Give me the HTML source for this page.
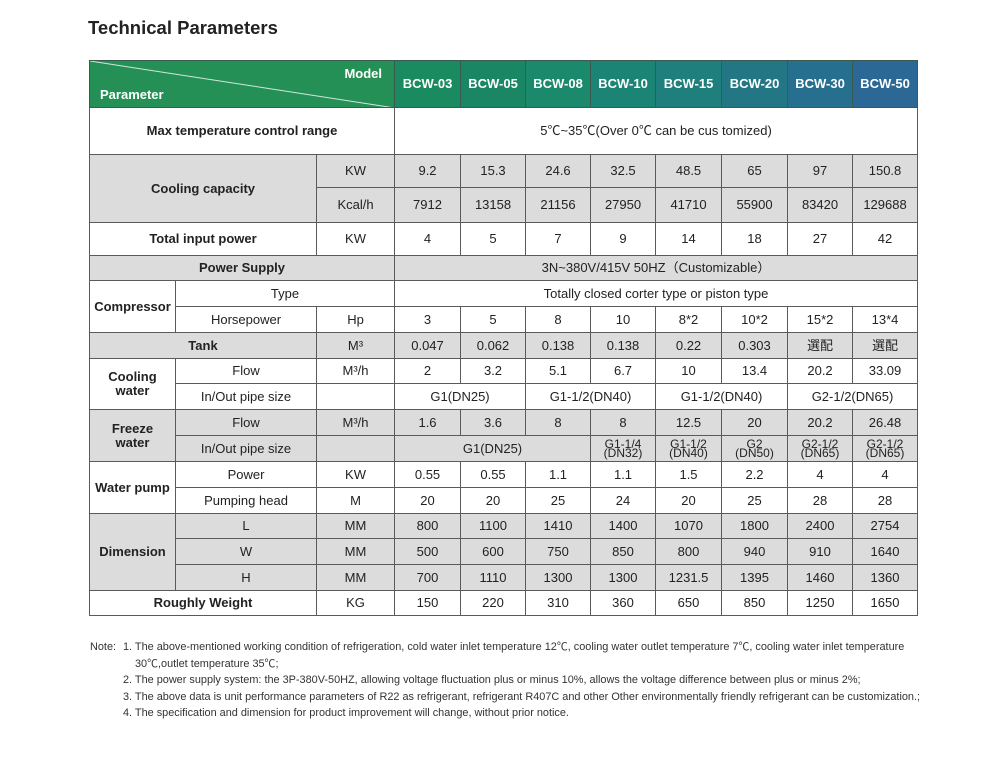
<!DOCTYPE html>
<html><head><meta charset="utf-8">
<style>
body{margin:0;background:#fff;width:1000px;height:763px;overflow:hidden;font-family:"Liberation Sans","Noto Sans CJK SC",sans-serif;color:#222;position:relative}
#title{position:absolute;left:88px;top:17px;font-size:18.5px;font-weight:bold;color:#222}
table{position:absolute;left:89px;top:60px;border-collapse:collapse;table-layout:fixed;width:829px}
td{border:1px solid #5a5a5a;padding:0;text-align:center;vertical-align:middle;font-size:13px;line-height:14px;overflow:hidden}
.g td{background:#dcdcdc}
td.b{font-weight:bold}
.hd td{color:#fff;font-weight:bold;font-size:13px;border-color:#3a5a50}
.two{font-size:12px;line-height:9.5px;padding-top:1px}
#notes{position:absolute;left:90px;top:639px;font-size:10.9px;color:#333;line-height:16.5px}
#notes .lbl{position:absolute;left:0;top:0}
#notes .body{margin-left:33px}
</style></head><body>
<div id="title">Technical Parameters</div>
<table>
<colgroup><col style="width:86px"><col style="width:141px"><col style="width:78px"><col style="width:66px"><col style="width:65px"><col style="width:65px"><col style="width:65px"><col style="width:66px"><col style="width:66px"><col style="width:65px"><col style="width:65px"></colgroup>
<tr class="hd" style="height:47px">
<td colspan="3" style="background:#259055;position:relative">
<svg width="305" height="47" style="position:absolute;left:0;top:0"><line x1="0" y1="0" x2="305" y2="47" stroke="#cfe8dc" stroke-width="1"/></svg>
<span style="position:absolute;right:12px;top:6px">Model</span>
<span style="position:absolute;left:10px;bottom:5px">Parameter</span></td>
<td style="background:#1a8a60">BCW-03</td>
<td style="background:#1a8664">BCW-05</td>
<td style="background:#1b8a6c">BCW-08</td>
<td style="background:#1c8474">BCW-10</td>
<td style="background:#1f7f7c">BCW-15</td>
<td style="background:#237785">BCW-20</td>
<td style="background:#276f8e">BCW-30</td>
<td style="background:#2b6896">BCW-50</td></tr>
<tr style="height:47px"><td colspan="3" class="b">Max temperature control range</td><td colspan="8">5℃~35℃(Over 0℃ can be cus tomized)</td></tr>
<tr class="g" style="height:33px"><td colspan="2" rowspan="2" class="b">Cooling capacity</td><td>KW</td><td>9.2</td><td>15.3</td><td>24.6</td><td>32.5</td><td>48.5</td><td>65</td><td>97</td><td>150.8</td></tr>
<tr class="g" style="height:35px"><td>Kcal/h</td><td>7912</td><td>13158</td><td>21156</td><td>27950</td><td>41710</td><td>55900</td><td>83420</td><td>129688</td></tr>
<tr style="height:33px"><td colspan="2" class="b">Total input power</td><td>KW</td><td>4</td><td>5</td><td>7</td><td>9</td><td>14</td><td>18</td><td>27</td><td>42</td></tr>
<tr class="g" style="height:25px"><td colspan="3" class="b">Power Supply</td><td colspan="8">3N~380V/415V 50HZ（Customizable）</td></tr>
<tr style="height:26px"><td rowspan="2" class="b">Compressor</td><td colspan="2">Type</td><td colspan="8">Totally closed corter type or piston type</td></tr>
<tr style="height:26px"><td>Horsepower</td><td>Hp</td><td>3</td><td>5</td><td>8</td><td>10</td><td>8*2</td><td>10*2</td><td>15*2</td><td>13*4</td></tr>
<tr class="g" style="height:26px"><td colspan="2" class="b">Tank</td><td>M³</td><td>0.047</td><td>0.062</td><td>0.138</td><td>0.138</td><td>0.22</td><td>0.303</td><td>選配</td><td>選配</td></tr>
<tr style="height:25px"><td rowspan="2" class="b">Cooling<br>water</td><td>Flow</td><td>M³/h</td><td>2</td><td>3.2</td><td>5.1</td><td>6.7</td><td>10</td><td>13.4</td><td>20.2</td><td>33.09</td></tr>
<tr style="height:26px"><td>In/Out pipe size</td><td></td><td colspan="2">G1(DN25)</td><td colspan="2">G1-1/2(DN40)</td><td colspan="2">G1-1/2(DN40)</td><td colspan="2">G2-1/2(DN65)</td></tr>
<tr class="g" style="height:26px"><td rowspan="2" class="b">Freeze<br>water</td><td>Flow</td><td>M³/h</td><td>1.6</td><td>3.6</td><td>8</td><td>8</td><td>12.5</td><td>20</td><td>20.2</td><td>26.48</td></tr>
<tr class="g" style="height:26px"><td>In/Out pipe size</td><td></td><td colspan="3">G1(DN25)</td><td class="two">G1-1/4<br>(DN32)</td><td class="two">G1-1/2<br>(DN40)</td><td class="two">G2<br>(DN50)</td><td class="two">G2-1/2<br>(DN65)</td><td class="two">G2-1/2<br>(DN65)</td></tr>
<tr style="height:26px"><td rowspan="2" class="b">Water pump</td><td>Power</td><td>KW</td><td>0.55</td><td>0.55</td><td>1.1</td><td>1.1</td><td>1.5</td><td>2.2</td><td>4</td><td>4</td></tr>
<tr style="height:26px"><td>Pumping head</td><td>M</td><td>20</td><td>20</td><td>25</td><td>24</td><td>20</td><td>25</td><td>28</td><td>28</td></tr>
<tr class="g" style="height:25px"><td rowspan="3" class="b">Dimension</td><td>L</td><td>MM</td><td>800</td><td>1100</td><td>1410</td><td>1400</td><td>1070</td><td>1800</td><td>2400</td><td>2754</td></tr>
<tr class="g" style="height:26px"><td>W</td><td>MM</td><td>500</td><td>600</td><td>750</td><td>850</td><td>800</td><td>940</td><td>910</td><td>1640</td></tr>
<tr class="g" style="height:26px"><td>H</td><td>MM</td><td>700</td><td>1110</td><td>1300</td><td>1300</td><td>1231.5</td><td>1395</td><td>1460</td><td>1360</td></tr>
<tr style="height:25px"><td colspan="2" class="b">Roughly Weight</td><td>KG</td><td>150</td><td>220</td><td>310</td><td>360</td><td>650</td><td>850</td><td>1250</td><td>1650</td></tr>
</table>
<div id="notes">
<div class="lbl">Note:</div>
<div class="body">
<div>1. The above-mentioned working condition of refrigeration, cold water inlet temperature 12℃, cooling water outlet temperature 7℃, cooling water inlet temperature</div>
<div style="margin-left:12px">30℃,outlet temperature 35℃;</div>
<div>2. The power supply system: the 3P-380V-50HZ, allowing voltage fluctuation plus or minus 10%, allows the voltage difference between plus or minus 2%;</div>
<div>3. The above data is unit performance parameters of R22 as refrigerant, refrigerant R407C and other Other environmentally friendly refrigerant can be customization.;</div>
<div>4. The specification and dimension for product improvement will change, without prior notice.</div>
</div></div>
</body></html>
